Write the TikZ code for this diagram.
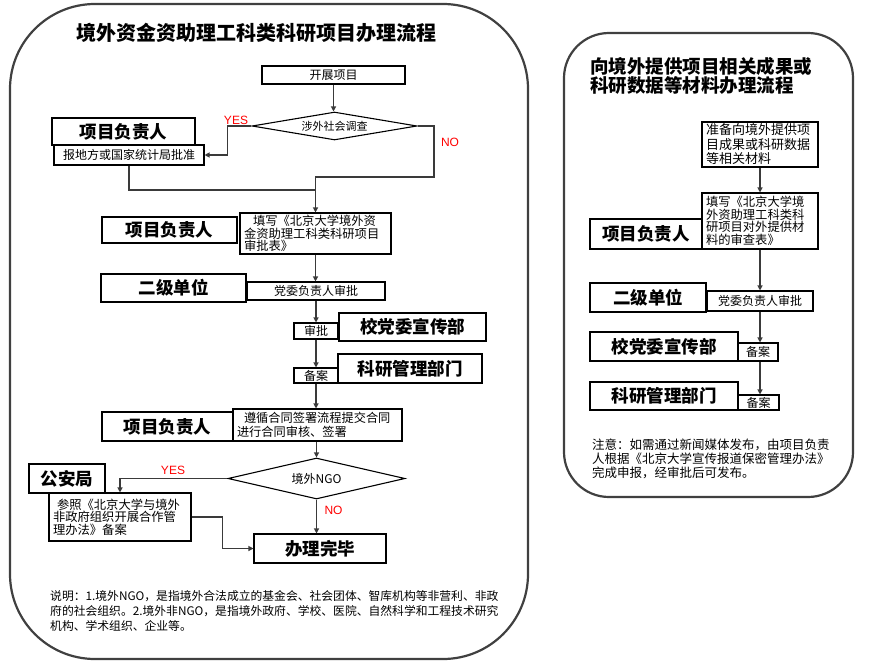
\documentclass[tikz,border=0pt]{standalone}
\usepackage{fontspec}
\setmainfont{Noto Sans CJK SC}
\newfontfamily\latinfont{Liberation Sans}
\usetikzlibrary{arrows.meta,shapes.geometric}
\definecolor{frame}{HTML}{404040}
\definecolor{conn}{HTML}{3A3A3A}
\begin{document}
\begin{tikzpicture}[x=1pt,y=-1pt,
  panel/.style={draw=frame, line width=2.2pt},
  box/.style={draw=black, line width=1.1pt, inner sep=0pt, fill=white},
  lbl/.style={box, font=\fontsize{17.5}{18}\selectfont\bfseries},
  txt/.style={box, font=\fontsize{12}{12.5}\selectfont},
  arr/.style={draw=conn, line width=1.2pt, -{Triangle[length=5pt,width=5pt]}},
  ln/.style={draw=conn, line width=1.2pt},
  yn/.style={text=red, font=\latinfont\fontsize{12}{12}\selectfont, inner sep=0pt},
  ttl/.style={inner sep=0pt, font=\fontsize{20}{20}\selectfont\bfseries}]
\useasboundingbox (0,0) rectangle (893,663);
% panels
\draw[panel, rounded corners=85pt] (10,4) rectangle (528,659);
\draw[panel, rounded corners=45pt] (564,33) rectangle (853,497);
% titles
\node[ttl] (t1) at (256,33) {境外资金资助理工科类科研项目办理流程};
\node[ttl, font=\fontsize{18.5}{19.5}\selectfont\bfseries, align=left, anchor=north west] (t2) at (590,57) {向境外提供项目相关成果或\\科研数据等材料办理流程};
% left flow
\node[txt, minimum width=143, minimum height=18] (start) at (333.5,75) {开展项目};
\node[txt, diamond, aspect=5.9, minimum width=165, minimum height=28] (d1) at (334.5,126) {\fontsize{11}{11}\selectfont 涉外社会调查};
\node[lbl, minimum width=143, minimum height=27] (p1) at (123.5,131.5) {项目负责人};
\node[txt, minimum width=150, minimum height=20] (b1) at (129,155) {报地方或国家统计局批准};
\node[lbl, minimum width=135, minimum height=26] (p2) at (169.5,230) {项目负责人};
\node[txt, minimum width=151, minimum height=41, text width=143, align=left, font=\fontsize{12.3}{12.5}\selectfont] (f1) at (315.5,233.5) {\hspace*{9pt}填写《北京大学境外资\\金资助理工科类科研项目\\审批表》};
\node[lbl, minimum width=145, minimum height=28] (u1) at (173.5,288) {二级单位};
\node[txt, minimum width=138, minimum height=18] (a1) at (316,291) {党委负责人审批};
\node[txt, minimum width=44, minimum height=16] (s1) at (316,331) {审批};
\node[lbl, minimum width=147, minimum height=28] (x1) at (412.5,327) {校党委宣传部};
\node[lbl, minimum width=144, minimum height=29] (k1) at (410,368.5) {科研管理部门};
\node[txt, minimum width=44, minimum height=15] (r1) at (316,375.5) {备案};
\node[lbl, minimum width=131, minimum height=29] (p3) at (167.5,426.5) {项目负责人};
\node[txt, minimum width=169, minimum height=32, text width=161, align=left, font=\fontsize{12.2}{14}\selectfont] (c1) at (317.5,425) {\hspace*{7pt}遵循合同签署流程提交合同\\进行合同审核、签署};
\node[txt, diamond, aspect=4.3, minimum width=177, minimum height=41] (d2) at (316.5,478.5) {境外NGO};
\node[lbl, minimum width=76, minimum height=29] (g1) at (67,478.5) {公安局};
\node[txt, minimum width=142, minimum height=48, text width=134, align=left, font=\fontsize{12.3}{12.5}\selectfont] (ref) at (120,517) {\hspace*{4pt}参照《北京大学与境外\\非政府组织开展合作管\\理办法》备案};
\node[lbl, minimum width=132, minimum height=29] (end) at (320,548.5) {办理完毕};
% left connectors
\coordinate (n1) at (434,177);
\coordinate (j1) at (315.5,190);
\draw[arr] (start.south) -- (start.south |- d1.north);
\draw[arr] (d1.west) -- ++(-24,0) |- (b1.east);
\draw[arr] (d1.east) -| (n1) -| (f1.north);
\draw[ln] (b1.south) |- (j1);
\draw[arr] (f1.south) -- (f1.south |- a1.north);
\draw[arr] (a1.south) -- (s1.north);
\draw[arr] (s1.south) -- (r1.north);
\draw[arr] (r1.south) -- (r1.south |- c1.north);
\draw[arr] (d2.north |- c1.south) -- (d2.north);
\draw[arr] (d2.west) -| (ref.north);
\draw[arr] (d2.south) -- (d2.south |- end.north);
\draw[arr] (ref.east) -- ++(31,0) |- (end.west);
% labels
\node[yn] (y1) at (236,120) {YES};
\node[yn] (no1) at (450,142) {NO};
\node[yn] (y2) at (173,470) {YES};
\node[yn] (no2) at (333.5,510) {NO};
% note left
\node[anchor=north west, align=left, inner sep=0pt, font=\fontsize{11.8}{15}\selectfont] (note1) at (50,590) {说明：1.境外NGO，是指境外合法成立的基金会、社会团体、智库机构等非营利、非政\\府的社会组织。2.境外非NGO，是指境外政府、学校、医院、自然科学和工程技术研究\\机构、学术组织、企业等。};
% right flow
\node[txt, minimum width=116, minimum height=45, text width=108, align=left, font=\fontsize{13}{14.5}\selectfont] (q1) at (760,144.5) {准备向境外提供项\\目成果或科研数据\\等相关材料};
\node[txt, minimum width=116, minimum height=56, text width=108, align=left, font=\fontsize{12.3}{12.6}\selectfont] (q2) at (760,221) {填写《北京大学境\\外资助理工科类科\\研项目对外提供材\\料的审查表》};
\node[lbl, minimum width=112, minimum height=30] (q3) at (646,234) {项目负责人};
\node[lbl, minimum width=116, minimum height=29] (q4) at (648,297.5) {二级单位};
\node[txt, minimum width=106, minimum height=20] (q5) at (760,301) {党委负责人审批};
\node[lbl, minimum width=148, minimum height=29] (q6) at (664,346.5) {校党委宣传部};
\node[txt, minimum width=40, minimum height=18] (q7) at (758,352) {备案};
\node[lbl, minimum width=148, minimum height=28] (q8) at (664,396) {科研管理部门};
\node[txt, minimum width=41, minimum height=15] (q9) at (758.5,402.5) {备案};
\draw[arr] (q1.south) -- (q2.north);
\draw[arr] (q2.south) -- (q5.north);
\draw[arr] (q5.south) -- (q5.south |- q7.north);
\draw[arr] (q5.south |- q7.south) -- (q5.south |- q9.north);
\node[anchor=north west, align=left, inner sep=0pt, font=\fontsize{12.5}{14}\selectfont] (note2) at (592,439) {注意：如需通过新闻媒体发布，由项目负责\\人根据《北京大学宣传报道保密管理办法》\\完成申报，经审批后可发布。};
\end{tikzpicture}
\end{document}
